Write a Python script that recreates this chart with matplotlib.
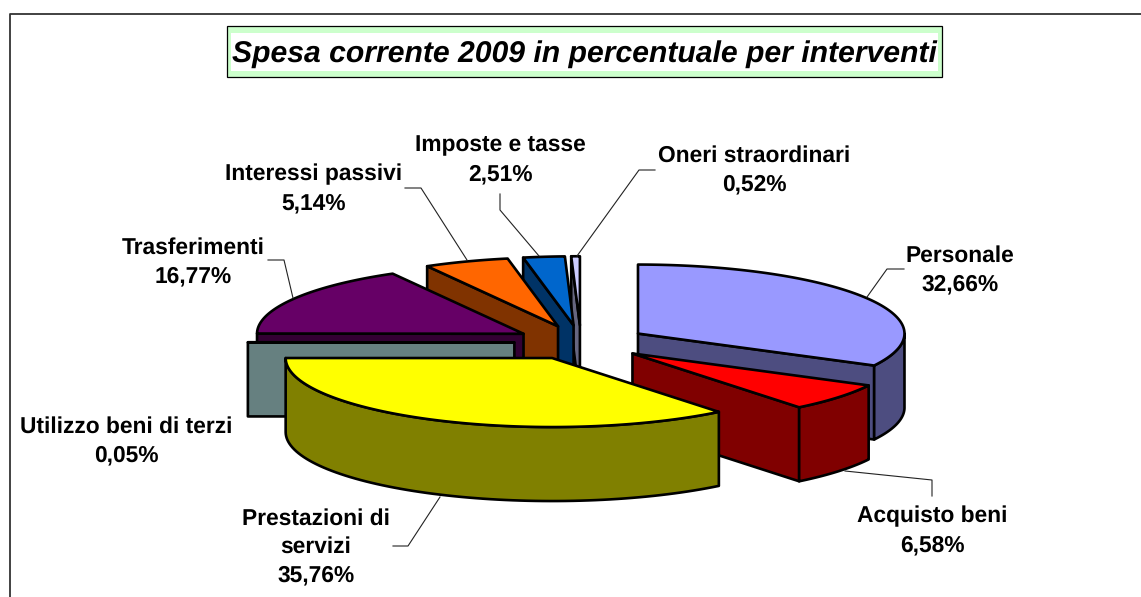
import numpy as np
import matplotlib
matplotlib.use("Agg")
import matplotlib.pyplot as plt
from matplotlib.patches import Polygon, Rectangle

plt.rcParams['font.family'] = ['Liberation Sans', 'DejaVu Sans']
plt.rcParams['text.hinting'] = 'no_hinting'

titolo = "Spesa corrente 2009 in percentuale per interventi"
voci = ["Personale", "Acquisto beni", "Prestazioni di\nservizi", "Utilizzo beni di terzi",
        "Trasferimenti", "Interessi passivi", "Imposte e tasse", "Oneri straordinari"]
valori = [32.66, 6.58, 35.76, 0.05, 16.77, 5.14, 2.51, 0.52]

colori_top = ['#9999FF', '#FF0000', '#FFFF00', '#669999', '#660066', '#FF6600', '#0066CC', '#CCCCFF']
colori_lato = ['#4D4D80', '#800000', '#808000', '#668080', '#330033', '#803300', '#003366', '#666680']

# geometria della torta in pixel
cx, cy = 581, 342.5
rx, ry = 266.5, 69
spessore = 74
esplosione = 0.25

pos_etichette = [(960, 270), (932, 531), (316, 547), (126, 441), (193, 262), (314, 189), (500, 160), (754, 170)]
linee_guida = [
    [(867, 297), (887, 269), (904, 269)],
    [(845, 471), (932, 480), (932, 496)],
    [(440, 497), (408, 546), (393, 546)],
    None,
    [(293, 298), (284, 260), (268, 260)],
    [(467, 260), (421, 188), (405, 188)],
    [(539, 256), (500, 210), (500, 194)],
    [(577, 256), (639, 170), (655, 170)],
]


def punto(a, ax0, ay0):
    a = np.radians(a)
    return np.column_stack([ax0 + rx*np.sin(a), ay0 - ry*np.cos(a)])


def faccia(ax, pts, col, z):
    ax.add_patch(Polygon(pts, closed=True, facecolor=col, edgecolor='black',
                         linewidth=1.9, joinstyle='round', zorder=z))


fig = plt.figure(figsize=(11.41, 5.97), dpi=100)
ax = fig.add_axes([0, 0, 1, 1])
ax.set_xlim(0, 1141)
ax.set_ylim(597, 0)
ax.axis('off')

# cornice: solo sopra e a sinistra
ax.plot([9.5, 9.5, 1141], [597, 14, 14], color='#333333', lw=1.3, zorder=1)

# riquadro titolo
ax.add_patch(Rectangle((226.5, 25.5), 715, 51.5, facecolor='#CCFFCC', edgecolor='black', lw=0.9, zorder=1))
ax.add_patch(Rectangle((231, 33), 707, 38, facecolor='white', edgecolor='none', zorder=2))
ax.text(584, 54, titolo, ha='center', va='center', fontsize=21.7, fontweight='bold',
        fontstyle='italic', color='black', zorder=3)

tot = sum(valori)
limiti = np.cumsum([0] + valori) / tot * 360

# ordine di disegno: prima le fette dietro, poi quelle davanti
ordine = [7, 6, 5, 4, 3, 0, 1, 2]
z = 5
for i in ordine:
    a0, a1 = limiti[i], limiti[i+1]
    am = np.radians((a0 + a1) / 2)
    ox = cx + esplosione*rx*np.sin(am)
    oy = cy - esplosione*ry*np.cos(am)
    centro = np.array([ox, oy])
    giu = np.array([0, spessore])

    # facce di taglio visibili
    for a, visibile in ((a0, np.sin(np.radians(a0)) < -1e-6), (a1, np.sin(np.radians(a1)) > 1e-6)):
        if visibile:
            p = punto(a, ox, oy)[0]
            faccia(ax, [centro, p, p+giu, centro+giu], colori_lato[i], z)
            z += 1

    # parete esterna (solo la parte davanti)
    b0, b1 = max(a0, 90), min(a1, 270)
    if b1 > b0:
        t = np.linspace(b0, b1, 80)
        arco = punto(t, ox, oy)
        faccia(ax, np.vstack([arco, (arco+giu)[::-1]]), colori_lato[i], z)
        z += 1

    # faccia superiore
    t = np.linspace(a0, a1, 120)
    faccia(ax, np.vstack([centro, punto(t, ox, oy)]), colori_top[i], z)
    z += 1

for voce, val, pos, linea in zip(voci, valori, pos_etichette, linee_guida):
    s = voce + "\n" + f"{val:.2f}".replace(".", ",") + "%"
    ax.text(pos[0], pos[1], s, ha='center', va='center', fontsize=16.4, fontweight='bold',
            color='black', linespacing=1.42, zorder=60)
    if linea is not None:
        ax.plot([q[0] for q in linea], [q[1] for q in linea], color='#222222', lw=0.8, zorder=50)

fig.savefig("out.png", dpi=100)
